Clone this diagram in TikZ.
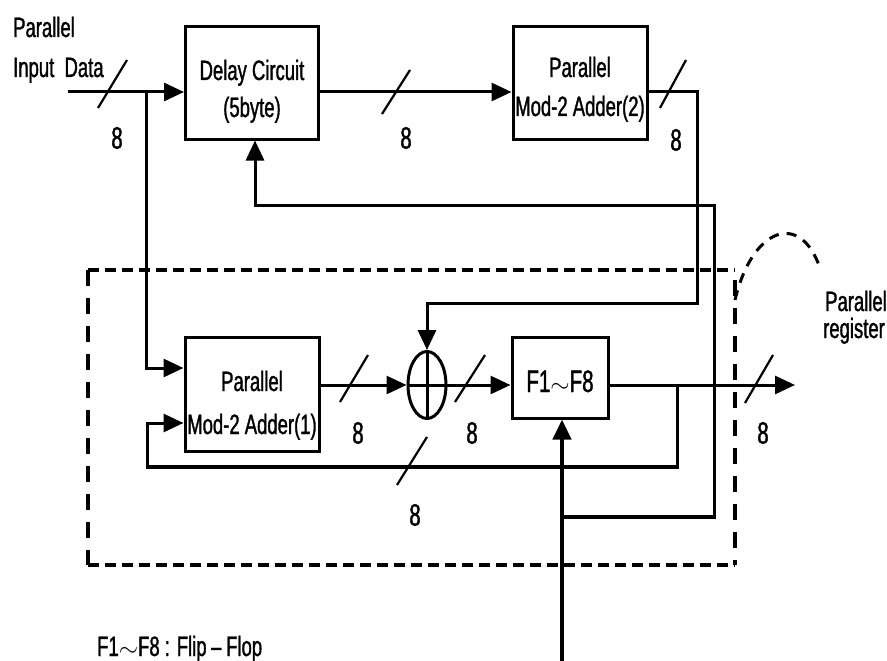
\documentclass[tikz,border=0pt]{standalone}
\usepackage{fontspec}
\setmainfont{Liberation Sans}[FakeStretch=0.66,FakeBold=1.2]
\usetikzlibrary{arrows.meta,shapes.geometric,calc}
\begin{document}
\begin{tikzpicture}[x=1pt,y=-1pt,
  wire/.style={line width=3pt},
  thickwire/.style={line width=4.5pt},
  arr/.style={-{Triangle[length=20pt,width=18pt]}},
  blk/.style={draw,line width=3pt,inner sep=0pt},
  lbl/.style={font=\fontsize{28}{30}\selectfont,inner sep=0pt},
  num/.style={font=\fontsize{31}{32}\selectfont,inner sep=0pt},
  slash/.style={line width=2.2pt},
  hdash/.style={line width=4pt,dash pattern=on 11pt off 6pt},
  vdash/.style={line width=3.5pt,dash pattern=on 16pt off 12pt},
  cdash/.style={line width=3pt,dash pattern=on 10pt off 8pt},
]
\useasboundingbox (0,0) rectangle (887,661);

% blocks
\node[blk,minimum width=133pt,minimum height=112pt] (delay) at (252,83) {};
\node[blk,minimum width=134pt,minimum height=112pt] (adder2) at (580,83) {};
\node[blk,minimum width=134pt,minimum height=114pt] (adder1) at (252,394) {};
\node[blk,minimum width=96pt,minimum height=81pt] (f1) at (560,377.5) {};
\node[draw,ellipse,line width=3pt,inner sep=0pt,minimum width=38pt,minimum height=67pt] (xor) at (427,385) {};

% block texts
\node[lbl,anchor=base] (delayt1) at (252,80) {Delay Circuit};
\node[lbl,anchor=base] (delayt2) at (252,117) {(5byte)};
\node[lbl,anchor=base] (a2t1) at (580,77) {Parallel};
\node[lbl,anchor=base] (a2t2) at (580,116) {Mod-2 Adder(2)};
\node[lbl,anchor=base] (a1t1) at (252,391) {Parallel};
\node[lbl,anchor=base] (a1t2) at (252,434) {Mod-2 Adder(1)};
\node[num,anchor=base] (f1t) at (560,392) {F1$\sim$F8};

% free labels
\node[lbl,anchor=base west] (pin1) at (13,37) {Parallel};
\node[lbl,anchor=base west] (pin2) at (13,77) {Input\ \ Data};
\node[lbl,anchor=base west] (preg1) at (825,311) {Parallel};
\node[lbl,anchor=base west] (preg2) at (823,338) {register};
\node[lbl,anchor=base west] (legend) at (97,656) {F1$\sim$F8 : Flip\,--\,Flop};

% coordinates
\coordinate (in) at (68,92);
\coordinate (br) at (146,92);
\coordinate (a2o) at (697,303);
\coordinate (fb0) at (562,517);
\coordinate (fb1) at (714,517);
\coordinate (fbt) at (714,205);
\coordinate (bot) at (562,661);
\coordinate (out) at (795,385);
\coordinate (fl) at (677,385);
\coordinate (flb) at (677,467);
\coordinate (fll) at (147,467);

% connectors
\draw[wire,arr] (in) -- (in -| delay.west);
\draw[wire,arr] (br) |- ($(adder1.west)+(0,-26)$);
\draw[wire,arr] (delay.east |- in) -- (adder2.west |- in);
\draw[wire,arr] ($(adder2.east)+(0,9)$) -| (a2o) -| (xor.north);
\draw[wire,arr] (fb0) -- (fb1) -- (fbt) -| ($(delay.south)+(3,0)$);
\draw[thickwire] (fb0) -- (fb1);
\draw[thickwire,arr] (bot) -- ($(f1.south)+(2,0)$);
\draw[wire,arr] (adder1.east |- xor) -- (xor.west);
\draw[wire,arr] (xor.east) -- (f1.west |- xor);
\draw[wire,arr] (f1.east |- xor) -- (out);
\draw[wire,arr] (fl) -- (flb) -- (fll) |- ($(adder1.west)+(0,29)$);
\draw[thickwire] (flb) -- (fll);
\draw[wire] (xor.north) -- (xor.south);
\draw[wire] (xor.west) -- (xor.east);

% bus slashes and widths
\draw[slash] (98,108) -- (127,60);
\node[num] (n1) at (117,138) {8};
\draw[slash] (382,114) -- (410,70);
\node[num] (n2) at (406,138) {8};
\draw[slash] (660,108) -- (686,60);
\node[num] (n3) at (676,140) {8};
\draw[slash] (340,402) -- (368,355);
\node[num] (n4) at (358,433) {8};
\draw[slash] (455,402) -- (485,355);
\node[num] (n5) at (472,433) {8};
\draw[slash] (397,485) -- (427,437);
\node[num] (n6) at (415,515) {8};
\draw[slash] (745,403) -- (773,355);
\node[num] (n7) at (763,433) {8};

% parallel register (dashed)
\draw[hdash] (88,270) -- (735,270);
\draw[hdash] (88,565) -- (735,565);
\draw[vdash] (88,270) -- (88,565);
\draw[vdash] (735,280) -- (735,565);
\draw[cdash] (735,300) .. controls (752,228) and (800,210) .. (820,268);
\end{tikzpicture}
\end{document}
